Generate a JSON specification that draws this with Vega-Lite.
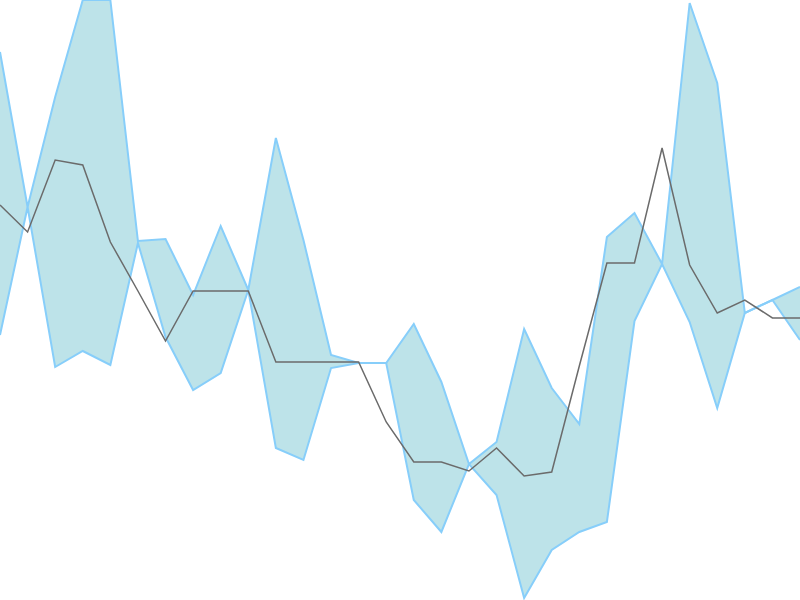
{
  "$schema": "https://vega.github.io/schema/vega-lite/v6.json",
  "autosize": {"type": "none"},
  "width": 800,
  "height": 600,
  "padding": 0,
  "config": {"view": {"stroke": null}},
  "data": {
    "values": [
      {"i": 0, "mid": 39.5, "a": 26.5, "b": 54.8},
      {"i": 1, "mid": 36.8, "a": 39.3, "b": 39.3},
      {"i": 2, "mid": 44.0, "a": 23.3, "b": 50.3},
      {"i": 3, "mid": 43.5, "a": 24.9, "b": 60.0},
      {"i": 4, "mid": 35.8, "a": 23.5, "b": 60.0},
      {"i": 5, "mid": 30.9, "a": 35.7, "b": 35.9},
      {"i": 6, "mid": 25.9, "a": 26.3, "b": 36.1},
      {"i": 7, "mid": 30.9, "a": 21.0, "b": 30.5},
      {"i": 8, "mid": 30.9, "a": 22.7, "b": 37.4},
      {"i": 9, "mid": 30.9, "a": 31.0, "b": 31.0},
      {"i": 10, "mid": 23.8, "a": 15.2, "b": 46.2},
      {"i": 11, "mid": 23.8, "a": 14.0, "b": 36.0},
      {"i": 12, "mid": 23.8, "a": 23.2, "b": 24.5},
      {"i": 13, "mid": 23.8, "a": 23.7, "b": 23.7},
      {"i": 14, "mid": 17.8, "a": 23.7, "b": 23.7},
      {"i": 15, "mid": 13.8, "a": 10.0, "b": 27.6},
      {"i": 16, "mid": 13.8, "a": 6.8, "b": 21.8},
      {"i": 17, "mid": 12.9, "a": 13.6, "b": 13.6},
      {"i": 18, "mid": 15.2, "a": 10.5, "b": 15.8},
      {"i": 19, "mid": 12.4, "a": 0.2, "b": 27.1},
      {"i": 20, "mid": 12.8, "a": 5.0, "b": 21.2},
      {"i": 21, "mid": 23.4, "a": 6.8, "b": 17.6},
      {"i": 22, "mid": 33.7, "a": 7.8, "b": 36.3},
      {"i": 23, "mid": 33.7, "a": 27.9, "b": 38.7},
      {"i": 24, "mid": 45.2, "a": 33.6, "b": 33.6},
      {"i": 25, "mid": 33.5, "a": 27.8, "b": 59.7},
      {"i": 26, "mid": 28.7, "a": 19.2, "b": 51.7},
      {"i": 27, "mid": 30.0, "a": 28.7, "b": 28.7},
      {"i": 28, "mid": 28.2, "a": 30.0, "b": 30.0},
      {"i": 29, "mid": 28.2, "a": 26.0, "b": 31.3}
    ]
  },
  "encoding": {
    "x": {"field": "i", "type": "quantitative", "scale": {"domain": [0, 29], "nice": false}, "axis": null}
  },
  "layer": [
    {
      "mark": {"type": "area", "color": "#bde3e9", "opacity": 1},
      "encoding": {
        "y": {"field": "a", "type": "quantitative", "scale": {"domain": [0, 60], "nice": false, "zero": false}, "axis": null},
        "y2": {"field": "b"}
      }
    },
    {
      "mark": {"type": "line", "color": "#87cefa", "strokeWidth": 2},
      "encoding": {"y": {"field": "a", "type": "quantitative"}}
    },
    {
      "mark": {"type": "line", "color": "#87cefa", "strokeWidth": 2},
      "encoding": {"y": {"field": "b", "type": "quantitative"}}
    },
    {
      "mark": {"type": "line", "color": "#6b6b6b", "strokeWidth": 1.5},
      "encoding": {"y": {"field": "mid", "type": "quantitative"}}
    }
  ]
}
